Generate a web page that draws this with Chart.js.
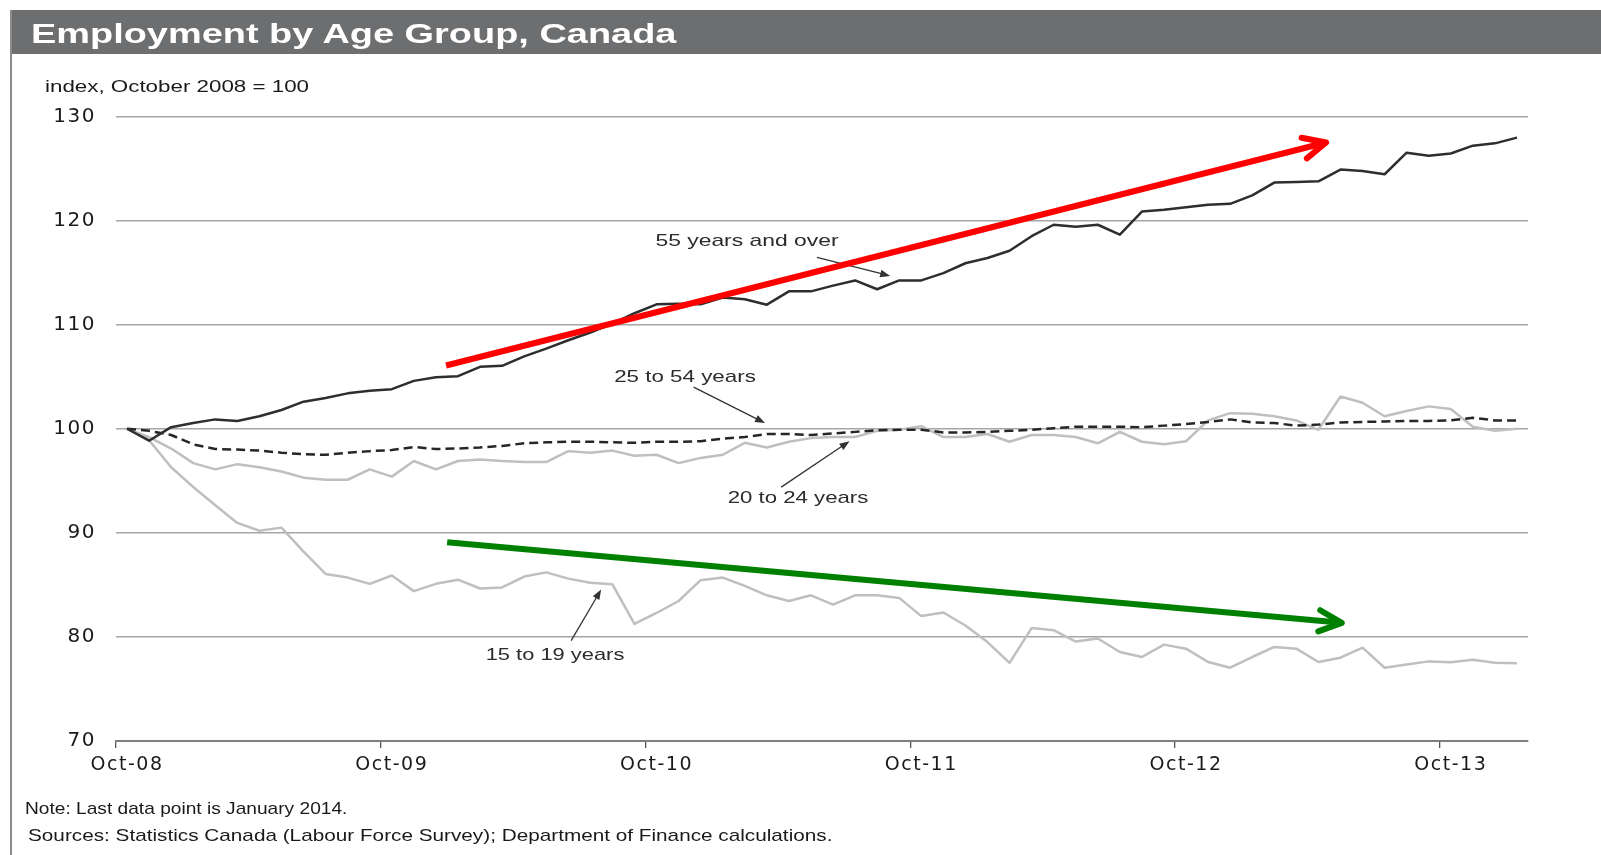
<!DOCTYPE html>
<html>
<head>
<meta charset="utf-8">
<title>Employment by Age Group, Canada</title>
<script src="https://cdn.jsdelivr.net/npm/chart.js@4.4.1/dist/chart.umd.min.js"></script>
<style>
  html, body { margin: 0; padding: 0; background: #fff; }
  #page { position: relative; width: 1601px; height: 855px; overflow: hidden; font-family: "Liberation Sans", Arial, sans-serif; }
  #band { position: absolute; left: 12px; top: 10px; width: 1589px; height: 44px; background: #6d6e70; }
  #frame { position: absolute; left: 10px; top: 10px; width: 2px; height: 845px; background: #8c8c8c; }
  #c { position: absolute; left: 0; top: 0; }
  .txt { position: absolute; white-space: nowrap; line-height: 1; transform-origin: 0 50%; font-family: "Liberation Sans", Arial, sans-serif; }
  #title { left: 31px; top: 21px; font-size: 27px; font-weight: bold; color: #fff; }
  #unit { left: 45px; top: 79px; font-size: 16px; color: #1a1a1a; }
  #note { left: 25px; top: 800px; font-size: 17px; color: #1a1a1a; }
  #src { left: 28px; top: 827px; font-size: 17px; color: #1a1a1a; }
  .lbl { position: absolute; white-space: nowrap; line-height: 1; font-size: 17px; color: #2b2b2b; font-family: "Liberation Sans", Arial, sans-serif; }
</style>
</head>
<body>
<div id="page">
  <div id="band"></div>
  <div id="frame"></div>
  <canvas id="c" width="1601" height="855"></canvas>
  <div class="txt" id="title">Employment by Age Group, Canada</div>
  <div class="txt" id="unit">index, October 2008 = 100</div>
  <div class="txt" id="note">Note: Last data point is January 2014.</div>
  <div class="txt" id="src">Sources: Statistics Canada (Labour Force Survey); Department of Finance calculations.</div>
</div>
<script>
const months = [
  'Oct-08','Nov-08','Dec-08',
  'Jan-09','Feb-09','Mar-09','Apr-09','May-09','Jun-09','Jul-09','Aug-09','Sep-09','Oct-09','Nov-09','Dec-09',
  'Jan-10','Feb-10','Mar-10','Apr-10','May-10','Jun-10','Jul-10','Aug-10','Sep-10','Oct-10','Nov-10','Dec-10',
  'Jan-11','Feb-11','Mar-11','Apr-11','May-11','Jun-11','Jul-11','Aug-11','Sep-11','Oct-11','Nov-11','Dec-11',
  'Jan-12','Feb-12','Mar-12','Apr-12','May-12','Jun-12','Jul-12','Aug-12','Sep-12','Oct-12','Nov-12','Dec-12',
  'Jan-13','Feb-13','Mar-13','Apr-13','May-13','Jun-13','Jul-13','Aug-13','Sep-13','Oct-13','Nov-13','Dec-13',
  'Jan-14'
];
const xTickLabels = ['Oct-08', 'Oct-09', 'Oct-10', 'Oct-11', 'Oct-12', 'Oct-13'];
const yTicks = [70, 80, 90, 100, 110, 120, 130];

const age55Plus = [
  100, 98.85, 100.15, 100.55, 100.9, 100.75, 101.2, 101.8, 102.6, 102.95,
  103.4, 103.65, 103.8, 104.6, 104.95, 105.05, 105.95, 106.05, 106.95, 107.7,
  108.5, 109.25, 110.1, 111.1, 111.95, 112.0, 111.95, 112.6, 112.45, 111.92,
  113.2, 113.2, 113.75, 114.25, 113.4, 114.25, 114.25, 114.95, 115.9, 116.4,
  117.1, 118.5, 119.6, 119.4, 119.6, 118.65, 120.87, 121.03, 121.29, 121.52,
  121.61, 122.42, 123.65, 123.71, 123.77, 124.9, 124.77, 124.45, 126.52, 126.23,
  126.45, 127.2, 127.42, 127.97
];
const age25to54 = [
  100, 99.8, 99.4, 98.5, 98.05, 98.0, 97.9, 97.7, 97.55, 97.5,
  97.7, 97.85, 97.95, 98.25, 98.05, 98.1, 98.2, 98.35, 98.6, 98.7,
  98.75, 98.75, 98.7, 98.65, 98.75, 98.75, 98.8, 99.05, 99.2, 99.5,
  99.5, 99.4, 99.55, 99.7, 99.85, 99.9, 99.9, 99.65, 99.65, 99.7,
  99.8, 99.9, 100.05, 100.2, 100.2, 100.2, 100.15, 100.3, 100.45, 100.65,
  100.9, 100.6, 100.55, 100.3, 100.4, 100.6, 100.65, 100.7, 100.75, 100.75,
  100.8, 101.05, 100.8, 100.8
];
const age20to24 = [
  100, 99.2, 98.1, 96.7, 96.1, 96.6, 96.3, 95.9, 95.3, 95.1,
  95.1, 96.1, 95.4, 96.9, 96.1, 96.9, 97.05, 96.9, 96.8, 96.8,
  97.85, 97.7, 97.9, 97.4, 97.5, 96.7, 97.2, 97.5, 98.65, 98.2,
  98.75, 99.1, 99.2, 99.2, 99.8, 99.9, 100.25, 99.2, 99.2, 99.5,
  98.75, 99.4, 99.4, 99.2, 98.6, 99.7, 98.75, 98.5, 98.8, 100.8,
  101.5, 101.45, 101.2, 100.8, 99.9, 103.1, 102.5, 101.2, 101.7, 102.15,
  101.9, 100.2, 99.8, 100.0
];
const age15to19 = [
  100, 98.9, 96.3, 94.4, 92.65, 90.95, 90.2, 90.5, 88.2, 86.05,
  85.7, 85.1, 85.9, 84.4, 85.1, 85.5, 84.65, 84.75, 85.8, 86.2,
  85.6, 85.2, 85.05, 81.25, 82.3, 83.45, 85.45, 85.7, 84.9, 84.0,
  83.45, 84.0, 83.1, 84.0, 84.0, 83.75, 82.0, 82.35, 81.1, 79.5,
  77.5, 80.85, 80.65, 79.55, 79.85, 78.55, 78.07, 79.26, 78.87, 77.59,
  77.04, 78.07, 79.04, 78.87, 77.59, 78.0, 78.97, 77.04, 77.36, 77.65,
  77.56, 77.81, 77.52, 77.46
];

const seriesNames = ['55 years and over', '25 to 54 years', '20 to 24 years', '15 to 19 years'];

// annotation anchors, in [month index, index value]
const labelAt = [[28.1, 118.14], [25.27, 105.1], [30.39, 93.41], [19.38, 78.39]];
const pointerFrom = [[31.27, 116.47], [25.68, 104.0], [29.65, 94.39], [20.13, 79.64]];
const pointerTo = [[34.59, 114.68], [28.92, 100.55], [32.75, 98.8], [21.49, 84.55]];
const trendUp = [[14.46, 106.08], [54.35, 127.5]];
const trendDown = [[14.51, 89.1], [55.06, 81.35]];

const labelWidths = [183, 142, 141, 139];

function fitWidth(el, w) {
  el.style.transform = 'scaleX(' + (w / el.offsetWidth) + ')';
}
fitWidth(document.getElementById('title'), 646);
fitWidth(document.getElementById('unit'), 264);
fitWidth(document.getElementById('note'), 322);
fitWidth(document.getElementById('src'), 805);

const page = document.getElementById('page');
const labelEls = seriesNames.map(name => {
  const d = document.createElement('div');
  d.className = 'lbl';
  d.textContent = name;
  page.appendChild(d);
  return d;
});

function drawPointer(ctx, a, b) {
  const ang = Math.atan2(b[1] - a[1], b[0] - a[0]);
  ctx.beginPath();
  ctx.moveTo(a[0], a[1]);
  ctx.lineTo(b[0] - 6 * Math.cos(ang), b[1] - 6 * Math.sin(ang));
  ctx.stroke();
  ctx.beginPath();
  ctx.moveTo(b[0], b[1]);
  ctx.lineTo(b[0] - 10 * Math.cos(ang) + 3.8 * Math.sin(ang), b[1] - 10 * Math.sin(ang) - 3.8 * Math.cos(ang));
  ctx.lineTo(b[0] - 10 * Math.cos(ang) - 3.8 * Math.sin(ang), b[1] - 10 * Math.sin(ang) + 3.8 * Math.cos(ang));
  ctx.closePath();
  ctx.fill();
}

function drawTrend(ctx, a, b, color) {
  const ang = Math.atan2(b[1] - a[1], b[0] - a[0]);
  ctx.strokeStyle = color;
  ctx.lineWidth = 6;
  ctx.lineCap = 'butt';
  ctx.beginPath();
  ctx.moveTo(a[0], a[1]);
  ctx.lineTo(b[0] - 3 * Math.cos(ang), b[1] - 3 * Math.sin(ang));
  ctx.stroke();
  ctx.lineCap = 'round';
  ctx.lineJoin = 'round';
  ctx.beginPath();
  ctx.moveTo(b[0] - 25 * Math.cos(ang - 0.44), b[1] - 25 * Math.sin(ang - 0.44));
  ctx.lineTo(b[0], b[1]);
  ctx.lineTo(b[0] - 25 * Math.cos(ang + 0.44), b[1] - 25 * Math.sin(ang + 0.44));
  ctx.stroke();
}

const annotations = {
  id: 'annotations',
  beforeDraw(chart) {
    chart.ctx.letterSpacing = '1.5px';
  },
  afterDatasetsDraw(chart) {
    const { ctx, scales: { x, y } } = chart;
    const px = p => [x.getPixelForValue(p[0]), y.getPixelForValue(p[1])];
    ctx.save();
    ctx.strokeStyle = '#333';
    ctx.fillStyle = '#333';
    ctx.lineWidth = 1.3;
    pointerFrom.forEach((p, i) => drawPointer(ctx, px(p), px(pointerTo[i])));
    drawTrend(ctx, px(trendUp[0]), px(trendUp[1]), '#ff0000');
    drawTrend(ctx, px(trendDown[0]), px(trendDown[1]), '#008000');
    ctx.restore();
  },
  afterDraw(chart) {
    chart.ctx.letterSpacing = '0px';
    const { x, y } = chart.scales;
    labelEls.forEach((el, i) => {
      el.style.left = x.getPixelForValue(labelAt[i][0]) + 'px';
      el.style.top = y.getPixelForValue(labelAt[i][1]) + 'px';
      el.style.transform = 'translate(-50%, -50%) scaleX(' + (labelWidths[i] / el.offsetWidth) + ')';
    });
  }
};

const tickFont = { family: 'DejaVu Sans', size: 19 };

new Chart(document.getElementById('c'), {
  type: 'line',
  data: {
    labels: months,
    datasets: [
      { label: seriesNames[0], data: age55Plus, borderColor: '#2e2e2e', borderWidth: 2.5 },
      { label: seriesNames[1], data: age25to54, borderColor: '#262626', borderWidth: 2.5, borderDash: [9, 5] },
      { label: seriesNames[2], data: age20to24, borderColor: '#bfbfbf', borderWidth: 2.5 },
      { label: seriesNames[3], data: age15to19, borderColor: '#bfbfbf', borderWidth: 2.5 }
    ]
  },
  options: {
    responsive: false,
    animation: false,
    devicePixelRatio: 1,
    layout: { padding: { left: 0, right: 73, top: 116.5, bottom: 0 } },
    elements: {
      point: { radius: 0 },
      line: { tension: 0, borderJoinStyle: 'round', fill: false }
    },
    plugins: { legend: { display: false }, tooltip: { enabled: false } },
    scales: {
      x: {
        type: 'category',
        offset: true,
        grid: {
          offset: true,
          drawOnChartArea: false,
          tickLength: 7,
          lineWidth: 1.3,
          color: c => (c.index % 12 === 0 ? '#555' : 'rgba(0,0,0,0)')
        },
        border: { display: true, color: '#7f7f7f', width: 2 },
        ticks: {
          autoSkip: false,
          maxRotation: 0,
          padding: 6,
          color: '#1a1a1a',
          font: tickFont,
          callback: (v, i) => (i % 12 === 0 ? xTickLabels[i / 12] : '')
        },
        afterFit: s => { s.height = 114; }
      },
      y: {
        min: 70,
        max: 130,
        afterBuildTicks: s => { s.ticks = yTicks.map(v => ({ value: v })); },
        grid: { color: '#a6a6a6', lineWidth: 1.5, drawTicks: false },
        border: { display: false },
        ticks: { padding: 20, color: '#1a1a1a', font: { family: 'DejaVu Sans', size: 20 } },
        afterFit: s => { s.width = 116; }
      }
    }
  },
  plugins: [annotations]
});
</script>
</body>
</html>
